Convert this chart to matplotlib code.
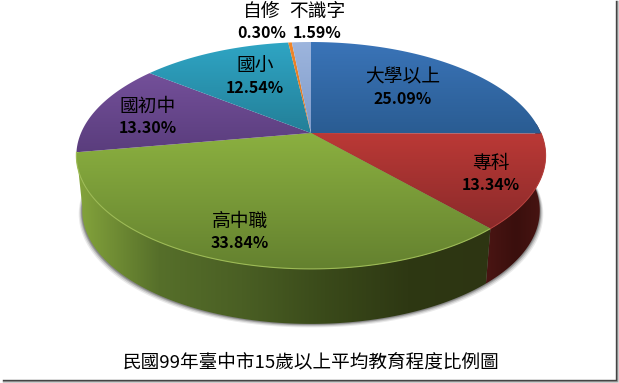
import numpy as np
import matplotlib
matplotlib.use("Agg")
import matplotlib.pyplot as plt
from matplotlib.patches import Polygon

plt.rcParams['font.family'] = ['Noto Sans CJK TC', 'DejaVu Sans']

# data
categories = ["大學以上", "專科", "高中職", "國初中", "國小", "自修", "不識字"]
shares = [25.09, 13.34, 33.84, 13.30, 12.54, 0.30, 1.59]
title = "民國99年臺中市15歲以上平均教育程度比例圖"

# top face colours (upper, lower)
top_colors = [("#3a74b8", "#2a5c92"), ("#bb3936", "#8a2a2a"), ("#8bb040", "#64812f"),
              ("#74509a", "#5a3d7d"), ("#2fa5c4", "#237f98"), ("#f0862a", "#d8741e"),
              ("#9db5dd", "#7f9bcb")]
# label centres in pixels
label_pos = [(403, 88), (491, 174), (240, 232), (148, 117), (255, 77), (262, 22), (317, 22)]

# perspective disc settings
CX, CY = 311, 133
A, B, K = 230, 109, 0.198
DEPTH = 55
BOTTOM_SCALE = 0.975


def disc(theta, shift=0, scale=1.0):
    # theta is clockwise from the top, in radians
    u, v = np.sin(theta), -np.cos(theta)
    d = 1 - K * v
    return np.column_stack([CX + scale * A * u / d, CY + B * v / d + shift])


def fill_gradient(ax, poly, stops, horizontal=False):
    xs = np.linspace(0, 1, 256)
    rgb = np.array([matplotlib.colors.to_rgb(c) for c in stops])
    pos = np.linspace(0, 1, len(stops))
    grad = np.column_stack([np.interp(xs, pos, rgb[:, i]) for i in range(3)])
    grad = grad[None, :, :] if horizontal else grad[:, None, :]
    x0, y0 = poly.min(axis=0)
    x1, y1 = poly.max(axis=0)
    im = ax.imshow(grad, extent=(x0, x1, y1, y0), aspect="auto", zorder=3, interpolation="bilinear")
    patch = Polygon(poly, closed=True, transform=ax.transData, fc="none", ec="none")
    ax.add_patch(patch)
    im.set_clip_path(patch)


fig = plt.figure(figsize=(6.19, 3.83), dpi=100)
ax = fig.add_axes([0, 0, 1, 1])
ax.set_xlim(0, 619)
ax.set_ylim(383, 0)
ax.axis("off")

edges = np.radians(np.cumsum([0] + shares) * 3.6)

# soft shadow under the side
ring = np.linspace(np.radians(80), np.radians(280), 200)
for off, alpha in [(3.5, 0.12), (2.5, 0.2), (1.5, 0.3), (0.8, 0.4)]:
    pts = disc(ring, DEPTH + off, BOTTOM_SCALE)
    pts[:, 0] += off * np.sign(pts[:, 0] - CX)
    ax.fill(np.r_[pts[:, 0], CX], np.r_[pts[:, 1], CY], color="#555555", alpha=alpha, lw=0, zorder=1)

# side wall, only red and green show
side_colors = {1: ["#4a1513", "#3a0f0d", "#4a1513"],
               2: ["#85a53c", "#566f2a", "#4a5f24", "#3a4a1a", "#2e3813", "#2d3512"]}
for i, stops in side_colors.items():
    t = np.linspace(edges[i], edges[i + 1], 120)
    if i == 1:
        t = np.linspace(np.radians(85), edges[i + 1], 120)
    poly = np.vstack([disc(t), disc(t[::-1], DEPTH, BOTTOM_SCALE)])
    fill_gradient(ax, poly, stops, horizontal=True)

# top face
for i, (c0, c1) in enumerate(top_colors):
    t = np.linspace(edges[i], edges[i + 1], max(int(shares[i] * 4), 4))
    poly = np.vstack([[[CX, CY]], disc(t)])
    fill_gradient(ax, poly, [c0, c1])

# highlight along the front rim
t = np.linspace(edges[2], edges[3], 120)
ax.plot(*disc(t).T, color="#9dbb55", lw=0.8, zorder=4)
t = np.linspace(np.radians(90), edges[2], 60)
ax.plot(*disc(t).T, color="#b8403c", lw=0.7, zorder=4)

# labels
for name, val, (x, y) in zip(categories, shares, label_pos):
    ax.text(x, y - 11, name, ha="center", va="center", fontsize=13.5, color="black", zorder=5)
    ax.text(x, y + 11, f"{val:.2f}%", ha="center", va="center", fontsize=11.5, fontweight="bold", color="black", zorder=5)

ax.text(311, 362, title, ha="center", va="center", fontsize=13.4, fontweight="medium", color="black", zorder=5)

# picture frame shadow on right and bottom
for off, col in [(2.5, "#d8d8d8"), (1.5, "#999999"), (0.5, "#444444")]:
    ax.plot([615 + off, 615 + off, 3], [1, 379 + off, 379 + off], color=col, lw=1.0, zorder=6)

fig.savefig("out.png", dpi=100)
